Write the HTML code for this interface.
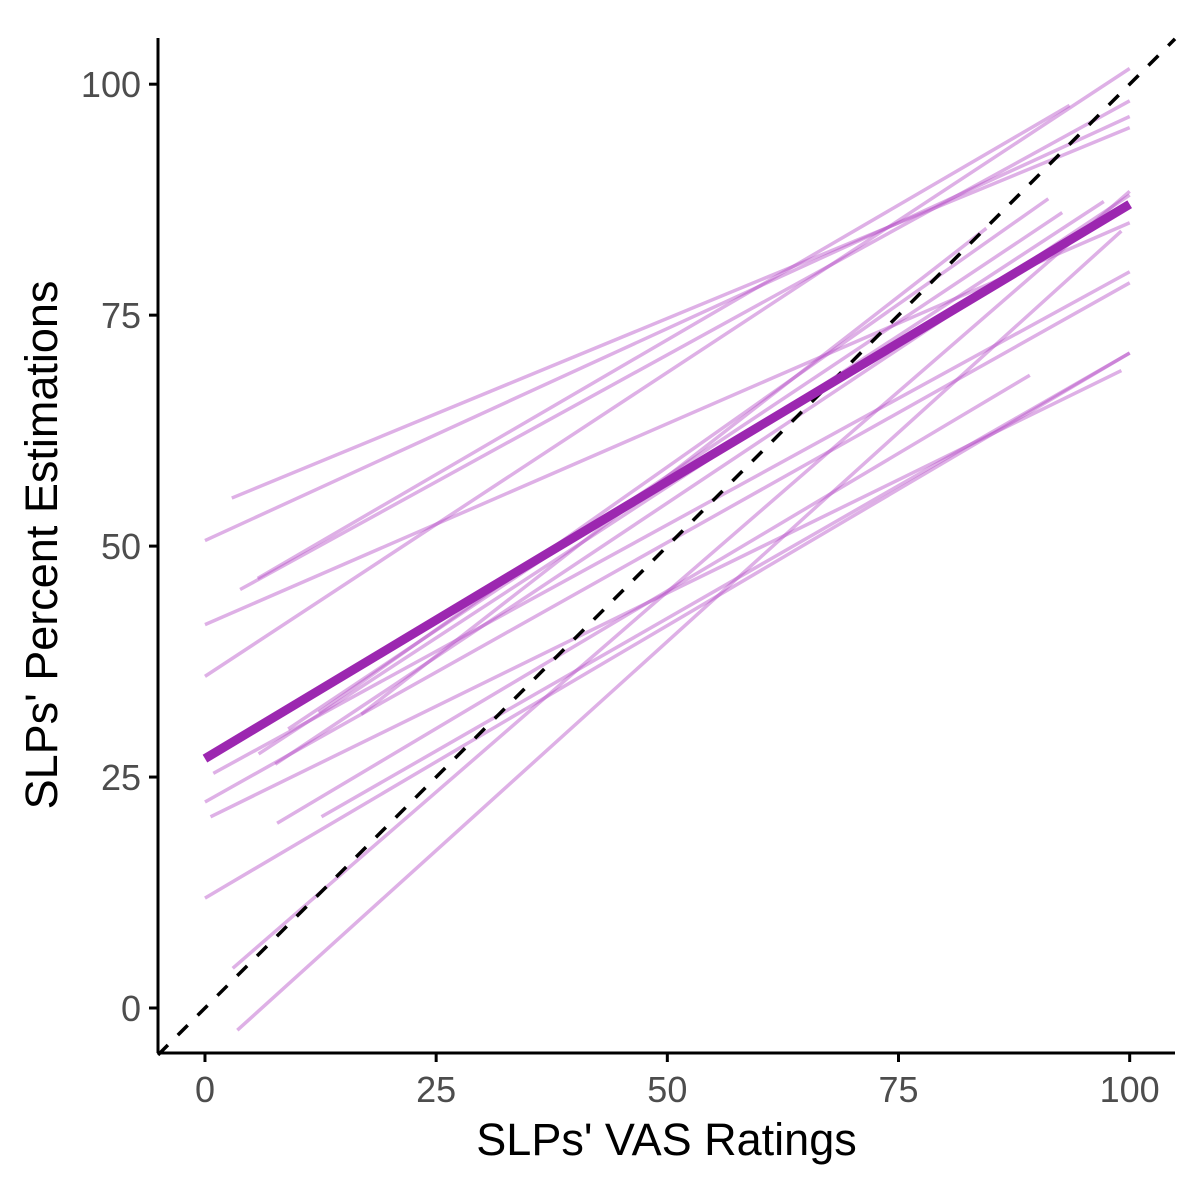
<!DOCTYPE html>
<html><head><meta charset="utf-8"><style>
body{margin:0;background:#fff}
svg{display:block;font-family:"Liberation Sans",Arial,sans-serif}
</style></head><body>
<svg id="chart" width="1200" height="1200">
<rect width="1200" height="1200" fill="#fff"/>
<g id="lines"></g>
<g id="axes"></g>
</svg>
<script>
const xStart=[2.9,0,3.8,5.7,0,0,3,3.5,16.9,12.3,9,5.8,7.6,0.9,0,0.6,7.8,12.6];
const yStart=[55.2,50.6,45.3,46.5,35.9,41.5,4.3,-2.4,31.8,32,30.2,27.5,26.4,25.4,22.3,20.7,20,20.7];
const xEnd=[100,100,100,93.5,100,100,100,99.1,84.5,91.2,92.7,97.2,100,100,100,99.1,89.2,100];
const yEnd=[95.3,96.5,98.2,97.7,101.7,85,88.4,84.1,84.4,87.6,86.1,87.3,88,79.7,78.5,69,68.5,70.9];
const yStartExtra=[11.9];
const yEndExtra=[70.9];
const meanLine=[0,27,100,87];
const xTicks=[0,25,50,75,100];
const yTicks=[0,25,50,75,100];
const xMin=-5.08,xMax=104.9,yMin=-4.87,yMax=105;
const L=158,R=1175,T=38,B=1053;
const sx=v=>L+(v-xMin)/(xMax-xMin)*(R-L);
const sy=v=>B-(v-yMin)/(yMax-yMin)*(B-T);
const NS="http://www.w3.org/2000/svg";
const gl=document.getElementById('lines'),ga=document.getElementById('axes');
function mk(t,a,p){const e=document.createElementNS(NS,t);for(const k in a)e.setAttribute(k,a[k]);p.appendChild(e);return e;}
for(let i=0;i<xStart.length;i++){
 const l=mk('line',{x1:sx(xStart[i]),y1:sy(yStart[i]),x2:sx(xEnd[i]),y2:sy(yEnd[i]),stroke:'#b54fc7','stroke-opacity':0.45,'stroke-width':3.5},gl);
 
 
}
for(let i=0;i<yStartExtra.length;i++){
 const l=mk('line',{x1:sx(0),y1:sy(yStartExtra[i]),x2:sx(100),y2:sy(yEndExtra[i]),stroke:'#b54fc7','stroke-opacity':0.45,'stroke-width':3.5},gl);
 
 
}
const d=mk('line',{x1:sx(xMin),y1:sy(xMin),x2:sx(xMax),y2:sy(xMax),stroke:'#000','stroke-width':3.5,'stroke-dasharray':'14 14'},gl);


const m=mk('line',{x1:sx(meanLine[0]),y1:sy(meanLine[1]),x2:sx(meanLine[2]),y2:sy(meanLine[3]),stroke:'#9c27b0','stroke-width':9},gl);


const xa=mk('line',{x1:L,y1:B,x2:R,y2:B,stroke:'#000','stroke-width':3},ga);


const ya=mk('line',{x1:L,y1:T,x2:L,y2:B,stroke:'#000','stroke-width':3},ga);


xTicks.forEach(v=>{
 const t=mk('line',{x1:sx(v),y1:B,x2:sx(v),y2:B+9,stroke:'#000','stroke-width':3},ga);
 
 
 const tx=mk('text',{x:sx(v),y:B+49,'text-anchor':'middle','font-size':36,fill:'#4d4d4d'},ga);
 tx.textContent=v;
 
 
});
yTicks.forEach(v=>{
 const t=mk('line',{x1:L-9,y1:sy(v),x2:L,y2:sy(v),stroke:'#000','stroke-width':3},ga);
 
 
 const tx=mk('text',{x:L-17,y:sy(v)+13,'text-anchor':'end','font-size':36,fill:'#4d4d4d'},ga);
 tx.textContent=v;
 
 
});
const xt=mk('text',{x:(L+R)/2,y:1155,'text-anchor':'middle','font-size':45,fill:'#000'},ga);
xt.textContent="SLPs' VAS Ratings";


const yt=mk('text',{x:0,y:0,'text-anchor':'middle','font-size':45,fill:'#000',transform:'translate(57,545) rotate(-90)'},ga);
yt.textContent="SLPs' Percent Estimations";


</script>
</body></html>
